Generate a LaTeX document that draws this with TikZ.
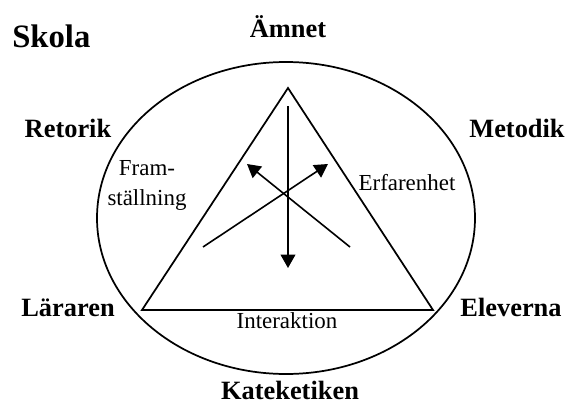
\documentclass[tikz,border=0pt]{standalone}
\usepackage{fontspec}
\setmainfont{Liberation Serif}
\usetikzlibrary{arrows.meta}

\begin{document}
\begin{tikzpicture}[x=0.75pt, y=-0.75pt,
    lbl/.style={font=\fontsize{19.8}{22}\selectfont\bfseries, inner sep=0pt, anchor=base},
    txt/.style={font=\fontsize{17.2}{22.5}\selectfont, inner sep=0pt, align=center, anchor=base},
    edge/.style={line width=1.3pt, line join=miter},
    arr/.style={-{Triangle[length=10pt, width=11pt]}, line width=1.2pt}]
  \useasboundingbox (0,0) rectangle (565,407);
  % ring and triangle
  \draw[line width=1.3pt] (286,218) ellipse [x radius=189, y radius=156];
  \coordinate (amnet) at (288,88);
  \coordinate (lar) at (142,310);
  \coordinate (elev) at (433,310);
  \draw[edge] (amnet) -- (lar) -- (elev) -- cycle;
  % arrows inside
  \coordinate (v1) at (288,106); \coordinate (v2) at (288,268);
  \coordinate (d1) at (203,247); \coordinate (d2) at (328,164);
  \coordinate (d3) at (350,247); \coordinate (d4) at (247,164);
  \draw[arr] (v1) -- (v2);
  \draw[arr] (d1) -- (d2);
  \draw[arr] (d3) -- (d4);
  % labels
  \node[lbl, anchor=base west, font=\fontsize{24.5}{26}\selectfont\bfseries] (skola) at (12,47) {Skola};
  \node[lbl] (amn) at (288,37) {Ämnet};
  \node[lbl] (ret) at (68,137) {Retorik};
  \node[lbl] (met) at (517,137) {Metodik};
  \node[lbl] (lara) at (68,316) {Läraren};
  \node[lbl] (elv) at (511,316) {Eleverna};
  \node[lbl] (kat) at (290,399) {Kateketiken};
  \node[txt] (fram) at (147,205) {Fram-\\ställning};
  \node[txt] (erf) at (407,190) {Erfarenhet};
  \node[txt] (inter) at (287,328) {Interaktion};
\end{tikzpicture}
\end{document}
